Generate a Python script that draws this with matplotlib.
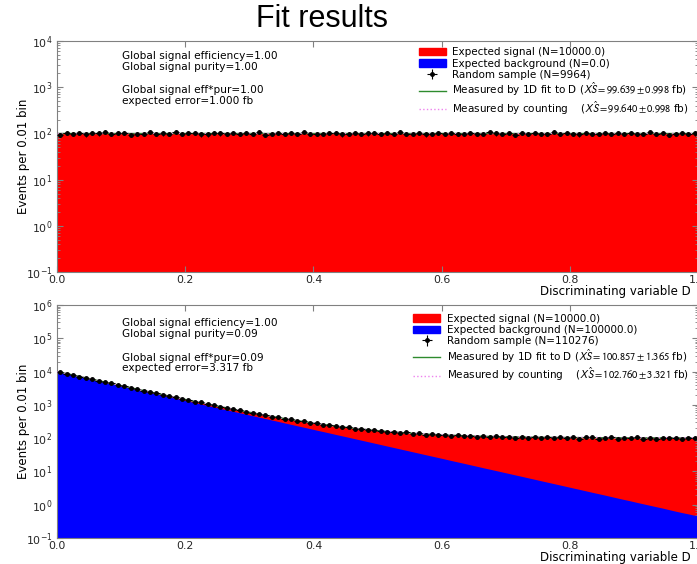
import numpy as np
import matplotlib
matplotlib.use("Agg")
import matplotlib.pyplot as plt
from matplotlib.patches import Patch

# ---- binning of the discriminating variable D ----
n_bins = 100
d_min, d_max = 0.0, 1.0

# ---- top panel: signal only ----
top_sig_total = 10000.0
top_bkg_total = 0.0
top_sample_n = 9964
top_fit = (99.639, 0.998)
top_count = (99.640, 0.998)
top_counts = [
    94, 104, 99, 101, 95, 103, 100, 106, 98, 102,
    104, 93, 98, 99, 105, 97, 100, 96, 108, 99,
    101, 103, 95, 95, 102, 100, 99, 104, 97, 101,
    98, 106, 94, 97, 103, 99, 102, 96, 105, 98,
    97, 97, 103, 101, 95, 99, 104, 98, 100, 102,
    96, 101, 99, 107, 97, 97, 103, 95, 99, 102,
    98, 104, 97, 96, 101, 99, 97, 105, 100, 98,
    103, 94, 101, 99, 102, 97, 97, 106, 98, 101,
    99, 95, 103, 97, 97, 104, 99, 101, 96, 102,
    98, 97, 105, 97, 101, 94, 99, 103, 96, 100,
]
top_info = ["Global signal efficiency=1.00", "Global signal purity=1.00",
            "Global signal eff*pur=1.00", "expected error=1.000 fb"]

# ---- bottom panel: signal + falling background ----
bot_sig_total = 10000.0
bot_bkg_total = 100000.0
bot_sample_n = 110276
bot_fit = (100.857, 1.365)
bot_count = (102.760, 3.321)
bot_bkg = [
    9516, 8611, 7791, 7050, 6379, 5772, 5223, 4726, 4276, 3869,
    3501, 3168, 2866, 2594, 2347, 2123, 1921, 1739, 1573, 1423,
    1288, 1166, 1055, 954, 863, 781, 707, 640, 579, 524,
    474, 429, 388, 351, 318, 287, 260, 235, 213, 193,
    174, 158, 143, 129, 117, 106, 95.8, 86.7, 78.4, 71.0,
    64.2, 58.0, 52.5, 47.5, 43.0, 38.9, 35.2, 31.8, 28.8, 26.1,
    23.6, 21.3, 19.3, 17.5, 15.8, 14.3, 12.9, 11.7, 10.6, 9.59,
    8.68, 7.85, 7.11, 6.43, 5.82, 5.26, 4.76, 4.31, 3.90, 3.53,
    3.19, 2.89, 2.61, 2.36, 2.14, 1.94, 1.75, 1.58, 1.43, 1.30,
    1.17, 1.06, 0.96, 0.87, 0.79, 0.71, 0.64, 0.58, 0.53, 0.48,
]
bot_counts = [
    9671, 8689, 7934, 7098, 6521, 5849, 5361, 4803, 4412, 3951,
    3634, 3249, 2991, 2671, 2469, 2208, 2047, 1822, 1690, 1509,
    1401, 1252, 1178, 1041, 975, 869, 821, 733, 691, 611,
    586, 517, 497, 443, 431, 379, 371, 328, 322, 286,
    281, 251, 249, 236, 209, 213, 190, 194, 172, 177,
    169, 151, 157, 141, 148, 135, 139, 127, 133, 122,
    128, 117, 124, 113, 119, 110, 116, 107, 114, 105,
    112, 104, 110, 101, 109, 100, 108, 99, 107, 98,
    106, 97, 105, 109, 96, 103, 108, 95, 102, 99,
    106, 97, 104, 92, 101, 98, 103, 94, 100, 102,
]
bot_info = ["Global signal efficiency=1.00", "Global signal purity=0.09",
            "Global signal eff*pur=0.09", "expected error=3.317 fb"]

edges = np.linspace(d_min, d_max, n_bins + 1)
centers = 0.5 * (edges[:-1] + edges[1:])
half_w = 0.5 * (edges[1] - edges[0])
# curve abscissae: the bin centres, padded out to the axis ends
xs = np.concatenate([[d_min], centers, [d_max]])


def pad(v):
    v = np.asarray(v, dtype=float)
    return np.concatenate([[v[0]], v, [v[-1]]])


TXT = 7.6
LABEL = 8.5
plt.rcParams.update({
    "font.family": "DejaVu Sans",
    "font.size": TXT,
    "mathtext.fontset": "stixsans",
    "axes.edgecolor": "#808080",
    "axes.linewidth": 0.8,
    "xtick.color": "#808080",
    "ytick.color": "#808080",
    "xtick.labelcolor": "#262626",
    "ytick.labelcolor": "#262626",
})

fig = plt.figure(figsize=(6.97, 5.64), dpi=100)
fig.text(0.462, 0.966, "Fit results", ha="center", va="center",
         fontsize=22, family="Liberation Sans")


def draw_panel(ax, sig_total, bkg_total, bkg, counts, fit, count, sample_n, info,
               ylim, txt_y, leg_y):
    sig = np.full(n_bins, sig_total / n_bins)
    bkg = np.asarray(bkg, dtype=float)
    counts = np.asarray(counts, dtype=float)
    base = 1e-4
    ax.fill_between(xs, base, pad(bkg + sig), color="#ff0000", lw=0, zorder=1)
    if bkg_total > 0:
        ax.fill_between(xs, base, pad(bkg), color="#0000ff", lw=0, zorder=2)
    fit_model = bkg + sig * fit[0] / 100.0
    cnt_model = bkg + sig * count[0] / 100.0
    ax.plot(xs, pad(fit_model), color="#2e8b2e", lw=1.0, zorder=3)
    ax.plot(xs, pad(cnt_model), color="#ee82ee", lw=1.0, ls=":", zorder=3)
    eb = ax.errorbar(centers, counts, yerr=np.sqrt(counts), xerr=half_w,
                     fmt="o", color="black", ms=2.5, elinewidth=0.8, capsize=0, zorder=4)

    ax.set_yscale("log")
    ax.set_xlim(d_min, d_max)
    ax.set_ylim(*ylim)
    ax.set_xticks([0.0, 0.2, 0.4, 0.6, 0.8, 1.0])
    ax.set_xticklabels(["0.0", "0.2", "0.4", "0.6", "0.8", "1.0"])
    ax.tick_params(which="both", direction="in", top=True, right=True, labelsize=TXT + 0.3)
    ax.tick_params(which="major", length=4)
    ax.tick_params(which="minor", length=2)
    ax.tick_params(axis="x", pad=2.2)
    ax.set_ylabel("Events per 0.01 bin", fontsize=LABEL)
    ax.yaxis.set_label_coords(-0.042, 0.5)
    ax.set_xlabel("Discriminating variable D", fontsize=LABEL, x=0.988, ha="right", labelpad=0)

    ax.text(0.101, txt_y, info[0] + "\n" + info[1], transform=ax.transAxes,
            va="top", ha="left", fontsize=TXT, linespacing=1.1)
    ax.text(0.101, txt_y - 0.148, info[2] + "\n" + info[3], transform=ax.transAxes,
            va="top", ha="left", fontsize=TXT, linespacing=1.1)

    handles = [
        Patch(color="#ff0000"), Patch(color="#0000ff"), eb,
        plt.Line2D([], [], color="#2e8b2e", lw=1.0),
        plt.Line2D([], [], color="#ee82ee", lw=1.0, ls=":"),
    ]
    labels = [
        f"Expected signal (N={sig_total:.1f})",
        f"Expected background (N={bkg_total:.1f})",
        f"Random sample (N={sample_n})",
        rf"Measured by 1D fit to D ($X\hat{{S}}={fit[0]:.3f}\pm{fit[1]:.3f}$ fb)",
        rf"Measured by counting    ($X\hat{{S}}={count[0]:.3f}\pm{count[1]:.3f}$ fb)",
    ]
    ax.legend(handles, labels, loc="upper right", bbox_to_anchor=(0.995, leg_y),
              frameon=False, fontsize=TXT - 0.1, handlelength=2.6, handletextpad=0.6,
              labelspacing=0.12, borderaxespad=0.2)


ax_top = fig.add_axes([0.0818, 0.5177, 0.9196, 0.4096])
draw_panel(ax_top, top_sig_total, top_bkg_total, np.zeros(n_bins), top_counts, top_fit,
           top_count, top_sample_n, top_info, (1e-1, 1e4), 0.958, 1.0)

ax_bot = fig.add_axes([0.0818, 0.0461, 0.9196, 0.4131])
draw_panel(ax_bot, bot_sig_total, bot_bkg_total, bot_bkg, bot_counts, bot_fit, bot_count,
           bot_sample_n, bot_info, (1e-1, 1e6), 0.944, 0.99)

fig.savefig("out.png", dpi=100)
